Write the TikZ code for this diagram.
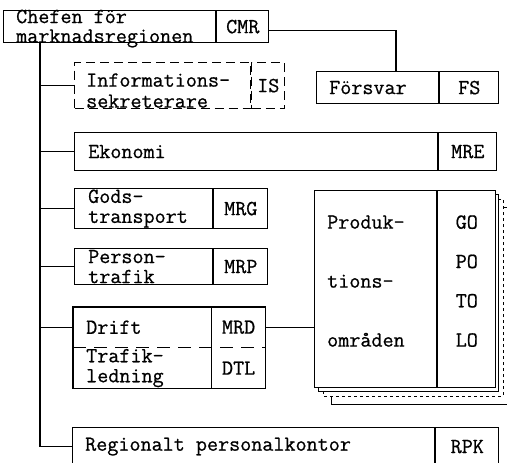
\documentclass[tikz,border=0pt]{standalone}
\usepackage{fontspec}
\usetikzlibrary{positioning}

\newfontfamily\typewr[UprightFeatures={FakeBold=0.7}]{Latin Modern Mono}
\tikzset{
  part/.style={inner sep=0pt, anchor=north west},
  box/.style={part, draw, line width=1.2pt, fill=white},
  code/.style={box, font=\typewr\fontsize{21.5}{20}\selectfont},
  txt/.style={inner sep=0pt, align=left, font=\typewr\fontsize{21.5}{20}\selectfont},
  link/.style={line width=1.2pt},
  dashbox/.style={dash pattern=on 9pt off 5pt},
}

\begin{document}
\begin{tikzpicture}[x=1pt, y=-1pt]
    \useasboundingbox (0,0) rectangle (507,463);

    % Chef of the region
    \node[box, minimum width=212, minimum height=32] (chef) at (3,10) {};
    \node[code, minimum width=52, minimum height=32] (cmr) at (chef.north east) {CMR};
    \node[txt, right=13pt of chef.west, yshift=-2pt, font=\typewr\fontsize{21.5}{19.5}\selectfont] (chef-t) {Chefen för\\marknadsregionen};

    % Defence
    \node[box, minimum width=122, minimum height=32] (fors) at (316,71) {};
    \node[code, minimum width=59, minimum height=32] (fs) at (fors.north east) {FS};
    \node[txt, right=13pt of fors.west] (fors-t) {Försvar};
    \draw[link] ([yshift=-4pt]cmr.east) -| ([xshift=80pt]fors.north west);

    % Information (dashed)
    \node[box, dashbox, minimum width=176, minimum height=46] (info) at (74,62) {};
    \node[code, dashbox, minimum width=33, minimum height=46] (is) at (info.north east) {IS};
    \node[txt, right=12pt of info.west, yshift=-5pt, font=\typewr\fontsize{21.5}{21}\selectfont] (info-t) {Informations-\\sekreterare};

    % Economy
    \node[box, minimum width=363, minimum height=38] (ekon) at (74,132) {};
    \node[code, minimum width=58, minimum height=38] (mre) at (ekon.north east) {MRE};
    \node[txt, right=14pt of ekon.west] (ekon-t) {Ekonomi};

    % Goods
    \node[box, minimum width=138, minimum height=40] (gods) at (74,188) {};
    \node[code, minimum width=54, minimum height=40] (mrg) at (gods.north east) {MRG};
    \node[txt, right=14pt of gods.west] (gods-t) {Gods-\\transport};

    % Passengers
    \node[box, minimum width=138, minimum height=36] (pers) at (74,248) {};
    \node[code, minimum width=54, minimum height=36] (mrp) at (pers.north east) {MRP};
    \node[txt, right=14pt of pers.west] (pers-t) {Person-\\trafik};

    % Operations / traffic control
    \node[part, minimum width=138, minimum height=40] (drift) at (73,307) {};
    \node[part, font=\typewr\fontsize{21.5}{20}\selectfont, minimum width=54, minimum height=40] (mrd) at (drift.north east) {MRD};
    \node[part, minimum width=138, minimum height=41] (trafik) at (drift.south west) {};
    \node[part, font=\typewr\fontsize{21.5}{20}\selectfont, minimum width=54, minimum height=41] (dtl) at (trafik.north east) {DTL};
    \draw[link] (drift.north west) rectangle (dtl.south east);
    \draw[link] (mrd.north west) -- (dtl.south west);
    \draw[link, dash pattern=on 13pt off 8pt] (drift.south west) -- (mrd.south east);
    \node[txt, right=13pt of drift.west] (drift-t) {Drift};
    \node[txt, right=13pt of trafik.west] (trafik-t) {Trafik-\\ledning};

    % Production areas, stacked sheets behind
    \coordinate (stack-nw) at (314,190);
    \coordinate (stack-se) at (494,387);
    \foreach \d/\sheet in {17/solid, 9/dashed, 4/solid}
        \draw[thin, \sheet, fill=white] ([shift={(\d,\d)}]stack-nw) rectangle ([shift={(\d,\d)}]stack-se);
    \node[box, minimum width=122, minimum height=197] (prod) at (stack-nw) {};
    \node[box, minimum width=58, minimum height=197] (areas) at (prod.north east) {};
    \node[txt, right=13pt of prod.west, yshift=8pt, font=\typewr\fontsize{21.5}{59}\selectfont] (prod-t) {Produk-\\tions-\\områden};
    \node[txt, yshift=8pt, font=\typewr\fontsize{21.5}{39.3}\selectfont] (areas-t) at (areas.center) {GO\\PO\\TO\\LO};
    \draw[link] (mrd.east) -- (mrd.east -| prod.west);

    % Personnel office
    \node[box, minimum width=362, minimum height=38] (regk) at (72,427) {};
    \node[code, minimum width=63, minimum height=38] (rpk) at (regk.north east) {RPK};
    \node[txt, right=13pt of regk.west] (regk-t) {Regionalt personalkontor};

    % Trunk line
    \coordinate (trunk) at ([xshift=37pt]chef.south west);
    \draw[link] (trunk) |- (regk.west);
    \foreach \n in {info, ekon, gods, pers, drift}
        \draw[link] (trunk |- \n.west) -- (\n.west);
\end{tikzpicture}
\end{document}
